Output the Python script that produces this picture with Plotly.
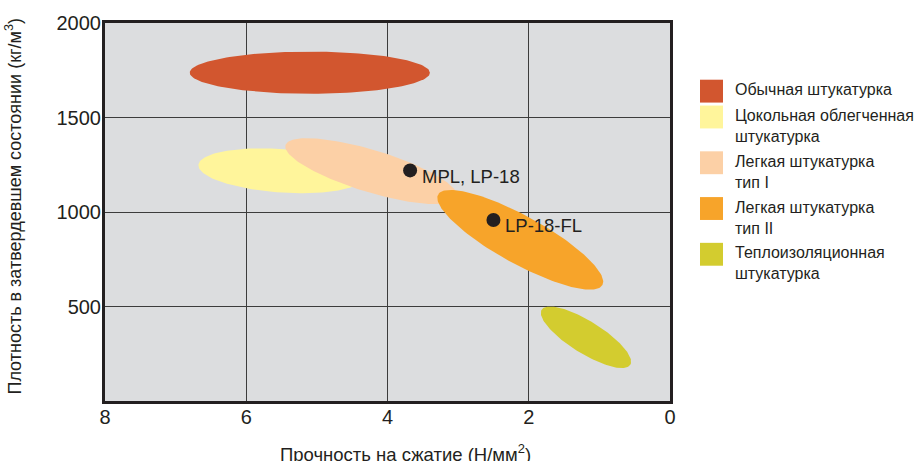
import numpy as np
import plotly.graph_objects as go

# ---- data ----
categories = [
    "Обычная штукатурка",
    "Цокольная облегченная<br>штукатурка",
    "Легкая штукатурка<br>тип I",
    "Легкая штукатурка<br>тип II",
    "Теплоизоляционная<br>штукатурка",
]
center_strength = [5.10, 5.50, 4.23, 2.12, 1.19]        # Н/мм²
center_density = [1737, 1218, 1216, 853, 337]           # кг/м³
half_major = [1.70, 1.18, 1.27, 1.33, 0.74]             # Н/мм² equivalent
half_minor = [0.30, 0.31, 0.30, 0.34, 0.23]
tilt_deg = [0, 4, 17, 29, 32]

point_names = ["MPL, LP-18", "LP-18-FL"]
point_strength = [3.68, 2.50]
point_density = [1220, 958]

x_ticks = [8, 6, 4, 2, 0]
y_ticks = [500, 1000, 1500, 2000]

# ---- style ----
colors = ["#D2562F", "#FFF59B", "#FCD0A6", "#F7A42A", "#D3CC2F"]
FONT = "Liberation Sans, Arial, sans-serif"
TXT = "#231F20"
W, H = 914, 461
ML, MR, MT, MB = 105, 244, 21, 60
PW, PH = W - ML - MR, H - MT - MB
X_RANGE = [8, 0]
Y_RANGE = [0, 2000]
px_per_x = PW / abs(X_RANGE[1] - X_RANGE[0])
px_per_y = PH / abs(Y_RANGE[1] - Y_RANGE[0])

fig = go.Figure()
t = np.linspace(0, 2 * np.pi, 181)
for i, name in enumerate(categories):
    a = half_major[i] * px_per_x
    b = half_minor[i] * px_per_x
    th = np.deg2rad(tilt_deg[i])
    dx = a * np.cos(th) * np.cos(t) - b * np.sin(th) * np.sin(t)
    dy = a * np.sin(th) * np.cos(t) + b * np.cos(th) * np.sin(t)  # screen y down
    xs = center_strength[i] - dx / px_per_x
    ys = center_density[i] - dy / px_per_y
    fig.add_trace(go.Scatter(x=xs, y=ys, mode="lines", fill="toself",
                             fillcolor=colors[i], line=dict(width=0, color=colors[i]),
                             name=name.replace("<br>", " "), hoverinfo="name",
                             showlegend=False))

fig.add_trace(go.Scatter(x=point_strength, y=point_density, mode="markers",
                         marker=dict(size=14, color="#231F20"),
                         showlegend=False, hoverinfo="skip"))
for nm, xv, yv in zip(point_names, point_strength, point_density):
    fig.add_annotation(x=xv, y=yv, text=nm, showarrow=False, xanchor="left",
                       yanchor="middle", xshift=10, yshift=-6,
                       font=dict(family=FONT, size=18.5, color=TXT))

# custom legend
sq = 23
sq_top_px = [78, 104, 150, 196, 242]
for i, name in enumerate(categories):
    top = sq_top_px[i] - MT
    y1 = 1 - top / PH
    y0 = 1 - (top + sq) / PH
    fig.add_shape(type="rect", xref="paper", yref="paper",
                  x0=(700 - ML) / PW, x1=(700 + sq - ML) / PW, y0=y0, y1=y1,
                  fillcolor=colors[i], line=dict(width=0))
    fig.add_annotation(xref="paper", yref="paper", x=(733 - ML) / PW,
                       y=1 - (top + sq / 2) / PH, yanchor="top", xanchor="left",
                       yshift=12, align="left", showarrow=False, text=name,
                       font=dict(family=FONT, size=16, color=TXT))

# axis titles
fig.add_annotation(xref="paper", yref="paper", x=(405 - ML) / PW, y=0,
                   yshift=-52, yanchor="middle", showarrow=False,
                   text="Прочность на сжатие (Н/мм<sup>2</sup>)",
                   font=dict(family=FONT, size=18.5, color=TXT))
fig.add_annotation(xref="paper", yref="paper", x=0, y=(401 - 205) / PH, xshift=-105,
                   textangle=-90, showarrow=False,
                   text="Плотность в затвердевшем состоянии (кг/м<sup>3</sup>)",
                   font=dict(family=FONT, size=18, color=TXT))

fig.update_layout(
    width=W, height=H, margin=dict(l=ML, r=MR, t=MT, b=MB),
    paper_bgcolor="white", plot_bgcolor="#DCDDDF",
    font=dict(family=FONT, color=TXT),
    showlegend=False,
    xaxis=dict(range=X_RANGE, tickvals=x_ticks, ticktext=[str(v) for v in x_ticks],
               showgrid=True, gridcolor="#3C3C3C", gridwidth=1, zeroline=False,
               showline=True, linecolor="#231F20", linewidth=3, mirror=True,
               ticks="", ticklabelstandoff=-4,
               tickfont=dict(family=FONT, size=20, color=TXT)),
    yaxis=dict(range=Y_RANGE, tickvals=y_ticks, ticktext=[str(v) for v in y_ticks],
               showgrid=True, gridcolor="#3C3C3C", gridwidth=1, zeroline=False,
               showline=True, linecolor="#231F20", linewidth=3, mirror=True,
               ticks="", ticklabelstandoff=-3,
               tickfont=dict(family=FONT, size=20, color=TXT)),
)

fig.write_html("out.html", config={"displayModeBar": False},
               post_script="document.body.style.margin='0';document.body.style.overflow='hidden';")
